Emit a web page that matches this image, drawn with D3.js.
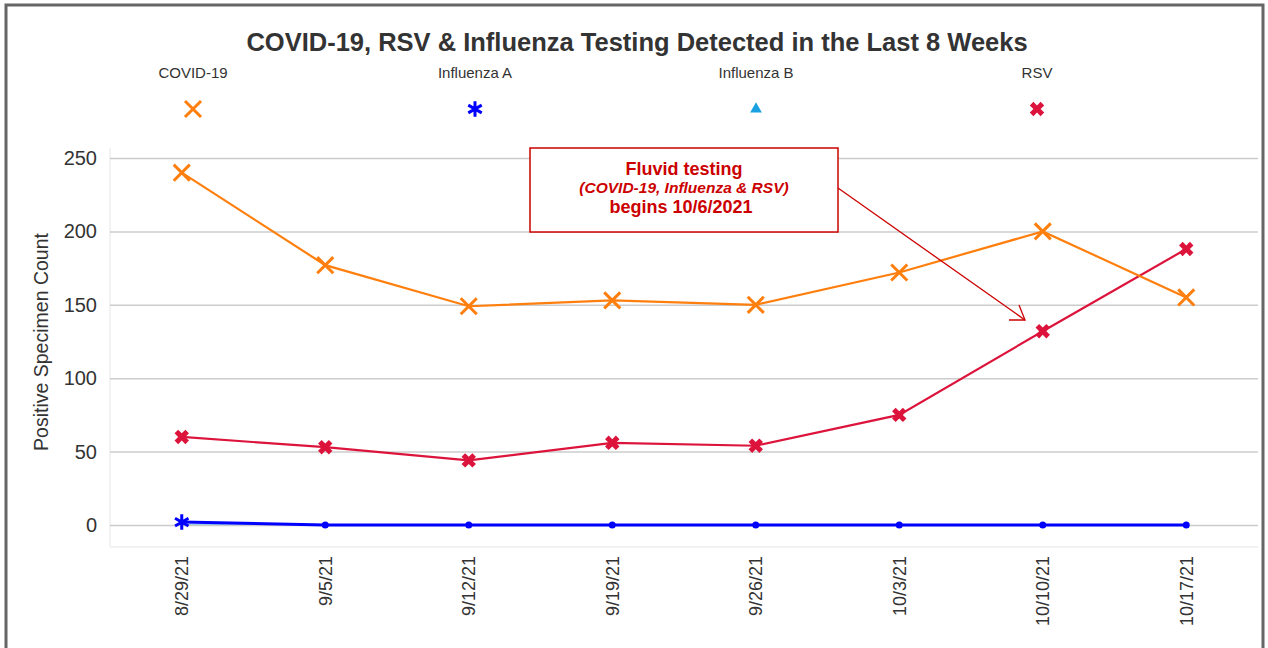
<!DOCTYPE html>
<html>
<head>
<meta charset="utf-8">
<script src="https://cdn.jsdelivr.net/npm/d3@7"></script>
<style>
	body { margin: 0; background: #fff; }
	svg text { font-family: "Liberation Sans", Arial, sans-serif; }
</style>
</head>
<body>
<svg id="chart" width="1268" height="648"></svg>
<script>
// data
var weeks = ["8/29/21", "9/5/21", "9/12/21", "9/19/21", "9/26/21", "10/3/21", "10/10/21", "10/17/21"];
var covid = [240, 177, 149, 153, 150, 172, 200, 155];
var rsv = [60, 53, 44, 56, 54, 75, 132, 188];
var fluA = [2, 0, 0, 0, 0, 0, 0, 0];
var fluB = [0, 0, 0, 0, 0, 0, 0, 0];
var yTicks = [0, 50, 100, 150, 200, 250];

var seriesList = [
	{ name: "COVID-19", values: covid, color: "#ff7f0e", symbol: "x" },
	{ name: "Influenza A", values: fluA, color: "#0000ff", symbol: "star" },
	{ name: "Influenza B", values: fluB, color: "#1ba1e2", symbol: "tri" },
	{ name: "RSV", values: rsv, color: "#dc143c", symbol: "cross" }
];

var svg = d3.select("#chart");

// outer frame
svg.append("rect")
	.attr("x", 6).attr("y", 5)
	.attr("width", 1257).attr("height", 660)
	.attr("fill", "none")
	.attr("stroke", "#666")
	.attr("stroke-width", 3);

var plotLeft = 110, plotRight = 1258, plotTop = 158, plotBottom = 525;

var x = d3.scaleBand().domain(weeks).range([plotLeft, plotRight]).padding(0);
var y = d3.scaleLinear().domain([0, 250]).range([plotBottom, plotTop]);
var cx = function (d, i) { return x(weeks[i]) + x.bandwidth() / 2; };

var line = d3.line().x(cx).y(function (d) { return y(d); });

// Influenza B sits at zero the whole time, under the grid and Influenza A
svg.append("path").datum(fluB)
	.attr("d", line)
	.attr("fill", "none")
	.attr("stroke", seriesList[2].color)
	.attr("stroke-width", 1.2);

// plot area edges
svg.append("line").attr("x1", plotLeft).attr("x2", plotLeft).attr("y1", 148).attr("y2", 547)
	.attr("stroke", "#eeeeee").attr("stroke-width", 1.5);
svg.append("line").attr("x1", plotLeft).attr("x2", plotRight).attr("y1", 547).attr("y2", 547)
	.attr("stroke", "#eeeeee").attr("stroke-width", 1.5);

// grid + y axis
var yAxis = d3.axisLeft(y).tickValues(yTicks).tickSize(-(plotRight - plotLeft)).tickPadding(13);
var gy = svg.append("g").attr("transform", "translate(" + plotLeft + ",0)").call(yAxis);
gy.select(".domain").remove();
gy.selectAll(".tick line").attr("stroke", "#cccccc").attr("stroke-width", 1.5);
gy.selectAll(".tick text").attr("font-size", 20).attr("fill", "#333")
	.attr("font-family", "Liberation Sans, Arial, sans-serif");

// x axis labels
var xAxis = d3.axisBottom(x).tickSize(0).tickPadding(0);
var gx = svg.append("g").attr("transform", "translate(0,556)").call(xAxis);
gx.select(".domain").remove();
gx.selectAll(".tick text")
	.attr("font-size", 18).attr("fill", "#333")
	.attr("font-family", "Liberation Sans, Arial, sans-serif")
	.attr("transform", "rotate(-90)")
	.attr("text-anchor", "end")
	.attr("dy", "0.35em")
	.attr("x", 0).attr("y", 0);

// y axis title
svg.append("text")
	.attr("transform", "translate(48,342) rotate(-90)")
	.attr("text-anchor", "middle")
	.attr("font-size", 19.5).attr("fill", "#333")
	.text("Positive Specimen Count");

// title
svg.append("text")
	.attr("x", 637).attr("y", 51)
	.attr("text-anchor", "middle")
	.attr("font-size", 25.5).attr("font-weight", "bold").attr("fill", "#333")
	.text("COVID-19, RSV & Influenza Testing Detected in the Last 8 Weeks");

function drawMarker(g, kind, color, px, py) {
	var t = "translate(" + px + "," + py + ")";
	if (kind === "x") {
		g.append("path").attr("d", d3.symbol().type(d3.symbolTimes).size(170)())
			.attr("transform", t)
			.attr("fill", "none").attr("stroke", color).attr("stroke-width", 3);
	} else if (kind === "star") {
		g.append("path").attr("d", d3.symbol().type(d3.symbolAsterisk).size(170)())
			.attr("transform", t)
			.attr("fill", "none").attr("stroke", color).attr("stroke-width", 3);
	} else if (kind === "tri") {
		g.append("path").attr("d", d3.symbol().type(d3.symbolTriangle).size(60)())
			.attr("transform", t)
			.attr("fill", color);
	} else {
		g.append("path").attr("d", d3.symbol().type(d3.symbolCross).size(130)())
			.attr("transform", t + " rotate(45)")
			.attr("fill", color);
	}
}

// legend
var legendX = [193, 475, 756, 1037];
var legend = svg.append("g");
seriesList.forEach(function (s, i) {
	legend.append("text")
		.attr("x", legendX[i]).attr("y", 78)
		.attr("text-anchor", "middle")
		.attr("font-size", 15).attr("fill", "#333")
		.text(s.name);
	drawMarker(legend, s.symbol, s.color, legendX[i], 109);
});

// draw the other series
var order = [1, 3, 0];
order.forEach(function (k) {
	var s = seriesList[k];
	var g = svg.append("g");
	g.append("path").datum(s.values)
		.attr("d", line)
		.attr("fill", "none")
		.attr("stroke", s.color)
		.attr("stroke-width", s.symbol === "star" ? 3 : 2.2);
	s.values.forEach(function (v, i) {
		if (s.symbol === "star" && v === 0) {
			g.append("circle").attr("cx", cx(v, i)).attr("cy", y(v)).attr("r", 3.5).attr("fill", s.color);
		} else {
			drawMarker(g, s.symbol, s.color, cx(v, i), y(v));
		}
	});
});

// annotation
var note = svg.append("g");
note.append("line")
	.attr("x1", 838).attr("y1", 188).attr("x2", 1025).attr("y2", 320)
	.attr("stroke", "#cc0000").attr("stroke-width", 1.3);
note.append("path")
	.attr("d", "M1009,320 L1025,320 L1019,305")
	.attr("fill", "none").attr("stroke", "#cc0000").attr("stroke-width", 1.3);
note.append("rect")
	.attr("x", 530).attr("y", 148).attr("width", 308).attr("height", 84)
	.attr("fill", "#fff").attr("stroke", "#cc0000").attr("stroke-width", 1.5);
var noteLines = [
	{ t: "Fluvid testing", y: 175, size: 18, style: "normal" },
	{ t: "(COVID-19, Influenza & RSV)", y: 193, size: 15.5, style: "italic" },
	{ t: "begins 10/6/2021", y: 213, size: 18, style: "normal" }
];
noteLines.forEach(function (l, i) {
	note.append("text")
		.attr("x", i === 2 ? 681 : 684).attr("y", l.y)
		.attr("text-anchor", "middle")
		.attr("font-size", l.size).attr("font-weight", "bold")
		.attr("font-style", l.style)
		.attr("fill", "#cc0000")
		.text(l.t);
});
</script>
</body>
</html>
